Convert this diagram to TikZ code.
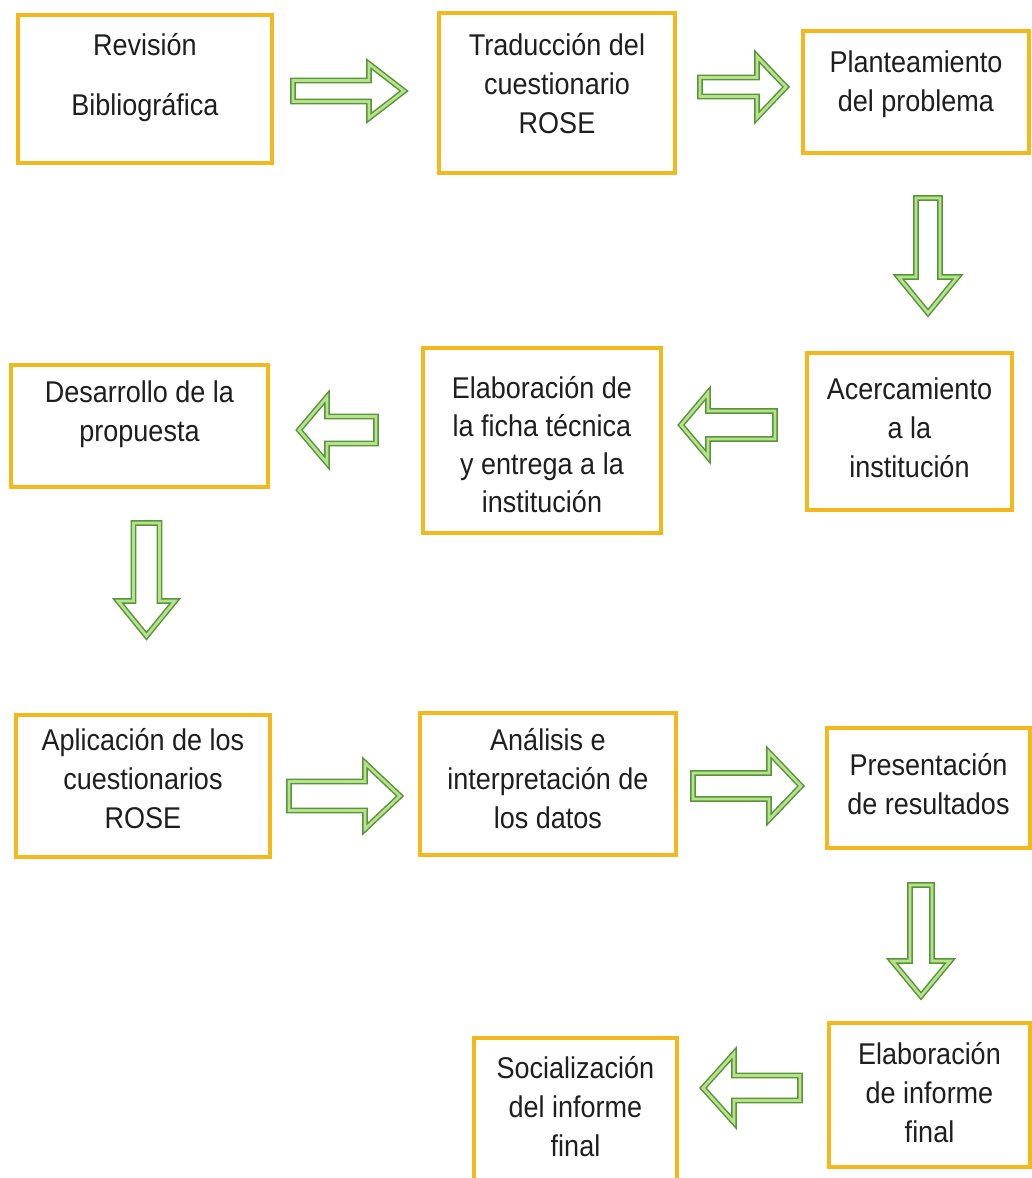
\documentclass[tikz,border=0pt]{standalone}
\usepackage{fontspec}
\setmainfont[FakeStretch=0.9]{Liberation Sans}
\usetikzlibrary{calc}
\definecolor{boxgold}{RGB}{242,184,28}
\definecolor{arrdark}{RGB}{88,148,58}
\definecolor{arrlight}{RGB}{182,226,140}
\definecolor{txtgray}{RGB}{30,30,30}
\tikzset{
  stepbox/.style={draw=boxgold, line width=3.5pt, fill=white, inner sep=0pt},
  steptext/.style={align=center, font=\fontsize{30}{39}\selectfont, text=txtgray, inner sep=0pt, anchor=north},
  barrow/.style={draw=arrdark, line width=1.5pt, double=arrlight, double distance=2.8pt, fill=white, line join=miter},
}
% horizontal block arrow: tail, tip, shaft half, head half, head length
\newcommand\harr[5]{%
  \draw[barrow] let \p1=(#1), \p2=(#2), \n1={ifthenelse(\x2>\x1,1,-1)} in
    (\x1,\y1+#3) -- (\x2-\n1*#5,\y1+#3) -- (\x2-\n1*#5,\y1+#4) -- (\x2,\y1)
    -- (\x2-\n1*#5,\y1-#4) -- (\x2-\n1*#5,\y1-#3) -- (\x1,\y1-#3) -- cycle;}
% vertical block arrow
\newcommand\varr[5]{%
  \draw[barrow] let \p1=(#1), \p2=(#2), \n1={ifthenelse(\y2>\y1,1,-1)} in
    (\x1+#3,\y1) -- (\x1+#3,\y2-\n1*#5) -- (\x1+#4,\y2-\n1*#5) -- (\x1,\y2)
    -- (\x1-#4,\y2-\n1*#5) -- (\x1-#3,\y2-\n1*#5) -- (\x1-#3,\y1) -- cycle;}
\begin{document}
\begin{tikzpicture}[x=1pt,y=-1pt]
\useasboundingbox (0,0) rectangle (1032,1178);
\clip (0,0) rectangle (1032,1178);
\fill[white] (0,0) rectangle (1032,1178);

% boxes
\node[stepbox, minimum width=254pt, minimum height=148pt] (b1) at (145,89) {};
\node[stepbox, minimum width=236pt, minimum height=160pt] (b2) at (557,93) {};
\node[stepbox, minimum width=226pt, minimum height=122pt] (b3) at (916,92) {};
\node[stepbox, minimum width=205pt, minimum height=157pt] (b4) at (909.5,431.5) {};
\node[stepbox, minimum width=238pt, minimum height=185pt] (b5) at (542,440.5) {};
\node[stepbox, minimum width=257pt, minimum height=122pt] (b6) at (139.5,426) {};
\node[stepbox, minimum width=254pt, minimum height=142pt] (b7) at (143,786) {};
\node[stepbox, minimum width=256pt, minimum height=142pt] (b8) at (548,784) {};
\node[stepbox, minimum width=203pt, minimum height=120pt] (b9) at (928.5,788) {};
\node[stepbox, minimum width=201pt, minimum height=144pt] (b10) at (929.5,1095) {};
\node[stepbox, minimum width=203pt, minimum height=150pt] (b11) at (575.5,1113) {};

% texts
\node[steptext] (t1) at (145,33) {Revisión\\[21pt]Bibliográfica};
\node[steptext] (t2) at (557,33) {Traducción del\\cuestionario\\ROSE};
\node[steptext] (t3) at (916,51) {Planteamiento\\del problema};
\node[steptext] (t4) at (909.5,378) {Acercamiento\\a la\\institución};
\node[steptext] (t5) at (542,376) {Elaboración de\\[-1pt]la ficha técnica\\[-1pt]y entrega a la\\[-1pt]institución};
\node[steptext] (t6) at (139.5,381) {Desarrollo de la\\propuesta};
\node[steptext] (t7) at (143,728) {Aplicación de los\\cuestionarios\\ROSE};
\node[steptext] (t8) at (548,728) {Análisis e\\interpretación de\\los datos};
\node[steptext] (t9) at (928.5,753) {Presentación\\de resultados};
\node[steptext] (t10) at (929.5,1042) {Elaboración\\de informe\\final};
\node[steptext] (t11) at (575.5,1056) {Socialización\\del informe\\final};

% arrow end points
\coordinate (a1s) at (293,91);  \coordinate (a1e) at (404,91);
\coordinate (a2s) at (700,87);  \coordinate (a2e) at (786,87);
\coordinate (d1s) at (928,198); \coordinate (d1e) at (928,313);
\coordinate (l1s) at (775,425); \coordinate (l1e) at (681,425);
\coordinate (l2s) at (376,430); \coordinate (l2e) at (299,430);
\coordinate (d2s) at (146.5,523); \coordinate (d2e) at (146.5,636);
\coordinate (r3s) at (289,796); \coordinate (r3e) at (400,796);
\coordinate (r4s) at (693,786); \coordinate (r4e) at (801,786);
\coordinate (d3s) at (921,885); \coordinate (d3e) at (921,996);
\coordinate (l3s) at (800,1088); \coordinate (l3e) at (703,1088);

\harr{a1s}{a1e}{10.5pt}{27pt}{35pt}
\harr{a2s}{a2e}{9.5pt}{30.5pt}{29pt}
\varr{d1s}{d1e}{12pt}{29.5pt}{36pt}
\harr{l1s}{l1e}{14pt}{32pt}{27pt}
\harr{l2s}{l2e}{13.5pt}{33pt}{28pt}
\varr{d2s}{d2e}{13pt}{28.5pt}{35pt}
\harr{r3s}{r3e}{14.5pt}{33pt}{35pt}
\harr{r4s}{r4e}{13pt}{33.5pt}{32pt}
\varr{d3s}{d3e}{11pt}{29pt}{35pt}
\harr{l3s}{l3e}{12.5pt}{34.5pt}{31pt}
\end{tikzpicture}
\end{document}
